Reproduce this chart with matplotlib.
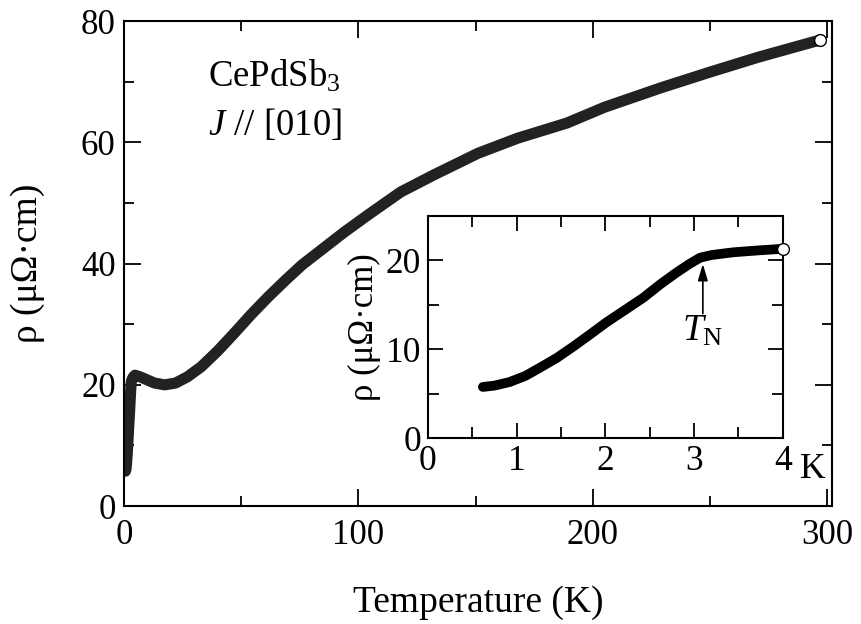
import numpy as np
import matplotlib
matplotlib.use("Agg")
import matplotlib.pyplot as plt
from matplotlib.ticker import MultipleLocator

plt.rcParams['font.family'] = ['Liberation Serif', 'DejaVu Serif']
plt.rcParams['mathtext.fontset'] = 'custom'
plt.rcParams['mathtext.rm'] = 'Liberation Serif'
plt.rcParams['mathtext.it'] = 'Liberation Serif:italic'

# Low-temperature data (inset, K and µΩ·cm)
T_low = [0.62, 0.75, 0.92, 1.1, 1.26, 1.45, 1.64, 1.82, 2.01, 2.22, 2.43,
         2.62, 2.80, 2.95, 3.07, 3.2, 3.44, 3.7, 4.0]
rho_low = [5.75, 5.9, 6.3, 7.0, 7.9, 9.0, 10.3, 11.6, 13.0, 14.4, 15.8,
           17.3, 18.6, 19.6, 20.3, 20.6, 20.9, 21.1, 21.3]

# Higher-temperature data (main panel)
T_high = [4.7, 7, 10, 13, 17.4, 22, 27, 33, 40, 47, 54, 61.5, 69, 76, 83, 94,
          104, 118, 132, 151, 168, 189, 205, 229, 250, 271, 297]
rho_high = [21.6, 21.3, 20.8, 20.3, 20.0, 20.3, 21.3, 23.0, 25.6, 28.5, 31.5,
            34.5, 37.3, 39.8, 41.9, 45.2, 48.0, 51.8, 54.6, 58.2, 60.7, 63.2,
            65.8, 69.0, 71.6, 74.1, 76.9]

main_xticks = [0, 100, 200, 300]
main_yticks = [0, 20, 40, 60, 80]
inset_xticks = [0, 1, 2, 3, 4]
inset_xticklabels = ['0', '1', '2', '3', '4']
inset_yticks = [0, 10, 20]

T_main = T_low + T_high
rho_main = rho_low + rho_high

fig = plt.figure(figsize=(8.61, 6.24), dpi=100)
ax = fig.add_axes([0.144, 0.189, 0.822, 0.777])

ax.plot(T_main, rho_main, color='#222222', lw=8, solid_capstyle='round',
        solid_joinstyle='round', zorder=2)
ax.plot(T_main[-1:], rho_main[-1:], 'o', ms=8.5, mfc='white', mec='black',
        mew=1.0, zorder=3)

ax.set_xlim(0, 302)
ax.set_ylim(0, 80)
ax.set_xticks(main_xticks)
ax.set_yticks(main_yticks)
ax.xaxis.set_minor_locator(MultipleLocator(50))
ax.yaxis.set_minor_locator(MultipleLocator(10))
ax.tick_params(which='both', direction='in', top=True, right=True,
               labelsize=25, width=1.3)
ax.tick_params(axis='y', pad=6)
ax.tick_params(axis='x', pad=9)
ax.tick_params(which='major', length=12)
ax.tick_params(which='minor', length=7)
for s in ax.spines.values():
    s.set_linewidth(1.5)
ax.set_xlabel('Temperature (K)', fontsize=27, labelpad=24)
ax.set_ylabel('ρ (μΩ·cm)', fontsize=27, labelpad=26)

ax.text(208 / 861, 1 - 87 / 624, r'CePdSb$_3$', transform=fig.transFigure,
        fontsize=26.5, ha='left', va='baseline')
ax.text(208 / 861, 1 - 135 / 624, r'$J$ // [010]', transform=fig.transFigure,
        fontsize=26.5, ha='left', va='baseline')

# Inset
axi = fig.add_axes([0.497, 0.298, 0.412, 0.356])
axi.plot(T_low, rho_low, color='black', lw=7, solid_capstyle='round',
         solid_joinstyle='round', zorder=2)
axi.plot(T_low[-1:], rho_low[-1:], 'o', ms=8.5, mfc='white', mec='black',
         mew=1.0, zorder=3, clip_on=False)
axi.set_xlim(0, 4)
axi.set_ylim(0, 25)
axi.set_xticks(inset_xticks)
axi.set_xticklabels(inset_xticklabels)
axi.set_yticks(inset_yticks)
axi.xaxis.set_minor_locator(MultipleLocator(0.5))
axi.yaxis.set_minor_locator(MultipleLocator(5))
axi.tick_params(which='both', direction='in', top=True, right=True,
                labelsize=25.5, width=1.3, pad=5)
axi.tick_params(which='major', length=11)
axi.tick_params(which='minor', length=8)
for s in axi.spines.values():
    s.set_linewidth(1.5)
axi.set_ylabel('ρ (μΩ·cm)', fontsize=25, labelpad=3)
axi.text(1.085, -0.14, 'K', transform=axi.transAxes, fontsize=25.5,
         ha='center', va='center')

axi.annotate('', xy=(3.1, 19.6), xytext=(3.1, 14.0),
             arrowprops=dict(arrowstyle='-|>,head_length=1.0,head_width=0.3',
                             lw=1.2, color='black', shrinkA=0, shrinkB=0))
axi.text(3.1, 12.0, r'$T_{\rm N}$', fontsize=27, ha='center', va='center')

fig.savefig('out.png', dpi=100)
